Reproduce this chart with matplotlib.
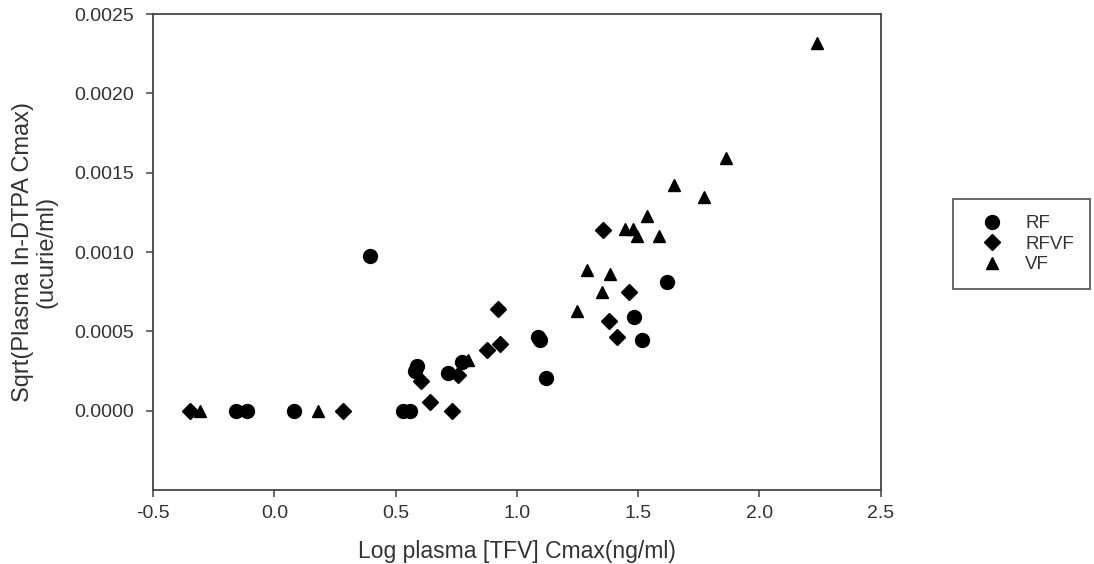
import matplotlib.pyplot as plt
import matplotlib.lines as mlines

plt.rcParams["font.family"] = ["Liberation Sans", "DejaVu Sans"]

# RF (circles)
rf_x = [0.394, -0.158, -0.113, 0.081, 0.53, 0.56, 0.58, 0.59, 0.716,
        0.773, 1.087, 1.095, 1.12, 1.482, 1.515, 1.62]
rf_y = [0.000975, 0.0, 0.0, 0.0, 0.0, 0.0, 0.000253, 0.000285, 0.00024,
        0.00031, 0.000468, 0.000443, 0.000209, 0.000589, 0.000443, 0.00081]

# RFVF (diamonds)
rfvf_x = [-0.347, 0.283, 0.641, 0.732, 0.604, 0.757, 0.876, 0.93, 0.922,
          1.354, 1.461, 1.379, 1.412]
rfvf_y = [0.0, 0.0, 0.000057, 0.0, 0.00019, 0.000228, 0.000386, 0.000424,
          0.00064, 0.00114, 0.000747, 0.000563, 0.000468]

# VF (triangles)
vf_x = [-0.306, 0.18, 0.80, 1.247, 1.288, 1.383, 1.35, 1.445, 1.478,
        1.494, 1.585, 1.535, 1.647, 1.77, 1.861, 2.236]
vf_y = [0.0, 0.0, 0.00032, 0.000627, 0.00089, 0.00086, 0.000747, 0.001146,
        0.001146, 0.0011, 0.0011, 0.00123, 0.001424, 0.001348, 0.00159, 0.002316]

xticks = [-0.5, 0.0, 0.5, 1.0, 1.5, 2.0, 2.5]
yticks = [0.0, 0.0005, 0.0010, 0.0015, 0.0020, 0.0025]

fig = plt.figure(figsize=(10.94, 5.64), dpi=100)
ax = fig.add_axes([0.140, 0.131, 0.665, 0.844])

ax.plot(rf_x, rf_y, "o", color="black", markersize=10, linestyle="none")
ax.plot(rfvf_x, rfvf_y, "D", color="black", markersize=8, linestyle="none")
ax.plot(vf_x, vf_y, "^", color="black", markersize=9, linestyle="none")

ax.set_xlim(-0.5, 2.5)
ax.set_ylim(-0.0005, 0.0025)
ax.set_xticks(xticks)
ax.set_xticklabels([f"{t:.1f}" for t in xticks])
ax.set_yticks(yticks)
ax.set_yticklabels([f"{t:.4f}" for t in yticks])

for sp in ax.spines.values():
    sp.set_color("#444444")
    sp.set_linewidth(1.3)

ax.tick_params(direction="out", length=5, width=1.1, colors="#444444",
               labelcolor="#333333", labelsize=14)
ax.tick_params(axis="y", pad=9)
ax.tick_params(axis="x", pad=6)

ax.set_xlabel("Log plasma [TFV] Cmax(ng/ml)", fontsize=16.5,
              color="#333333", labelpad=13)
ax.set_ylabel("Sqrt(Plasma In-DTPA Cmax)\n(ucurie/ml)", fontsize=17,
              color="#333333", labelpad=12, linespacing=1.05)

handles = [
    mlines.Line2D([], [], color="black", marker="o", linestyle="none",
                  markersize=10, label="RF"),
    mlines.Line2D([], [], color="black", marker="D", linestyle="none",
                  markersize=8, label="RFVF"),
    mlines.Line2D([], [], color="black", marker="^", linestyle="none",
                  markersize=9, label="VF"),
]
leg = fig.legend(handles=handles, loc="upper left",
                 bbox_to_anchor=(953 / 1094, 1 - 199 / 564),
                 fontsize=13.5, frameon=True, fancybox=False,
                 handlelength=2.5, handletextpad=0.5, labelspacing=0.18,
                 borderpad=0.85, borderaxespad=0, labelcolor="#333333")
leg.get_frame().set_edgecolor("#333333")
leg.get_frame().set_linewidth(1.3)

plt.savefig("out.png", dpi=100)
plt.close(fig)
